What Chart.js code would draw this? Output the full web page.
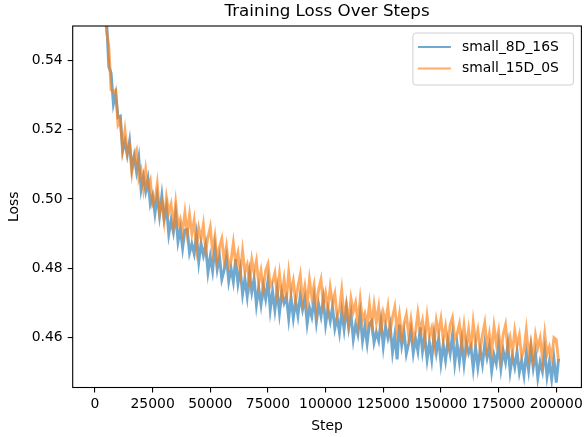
<!DOCTYPE html>
<html>
<head>
<meta charset="utf-8">
<script src="https://cdn.jsdelivr.net/npm/chart.js@4/dist/chart.umd.min.js"></script>
<style>
  html, body { margin: 0; padding: 0; background: #fff; }
  canvas { display: block; }
</style>
</head>
<body>
<canvas id="lossChart" width="587" height="437"></canvas>
<script>
var chartTitle = 'Training Loss Over Steps';
var seriesNames = ['small_8D_16S', 'small_15D_0S'];
var xTicks = [0, 25000, 50000, 75000, 100000, 125000, 150000, 175000, 200000];
var yTicks = [0.46, 0.48, 0.50, 0.52, 0.54];

var steps = [
    0, 1000, 2000, 3000, 4000, 5000, 6000, 7000, 8000, 9000,
    10000, 11000, 12000, 13000, 14000, 15000, 16000, 17000, 18000, 19000,
    20000, 21000, 22000, 23000, 24000, 25000, 26000, 27000, 28000, 29000,
    30000, 31000, 32000, 33000, 34000, 35000, 36000, 37000, 38000, 39000,
    40000, 41000, 42000, 43000, 44000, 45000, 46000, 47000, 48000, 49000,
    50000, 51000, 52000, 53000, 54000, 55000, 56000, 57000, 58000, 59000,
    60000, 61000, 62000, 63000, 64000, 65000, 66000, 67000, 68000, 69000,
    70000, 71000, 72000, 73000, 74000, 75000, 76000, 77000, 78000, 79000,
    80000, 81000, 82000, 83000, 84000, 85000, 86000, 87000, 88000, 89000,
    90000, 91000, 92000, 93000, 94000, 95000, 96000, 97000, 98000, 99000,
    100000, 101000, 102000, 103000, 104000, 105000, 106000, 107000, 108000, 109000,
    110000, 111000, 112000, 113000, 114000, 115000, 116000, 117000, 118000, 119000,
    120000, 121000, 122000, 123000, 124000, 125000, 126000, 127000, 128000, 129000,
    130000, 131000, 132000, 133000, 134000, 135000, 136000, 137000, 138000, 139000,
    140000, 141000, 142000, 143000, 144000, 145000, 146000, 147000, 148000, 149000,
    150000, 151000, 152000, 153000, 154000, 155000, 156000, 157000, 158000, 159000,
    160000, 161000, 162000, 163000, 164000, 165000, 166000, 167000, 168000, 169000,
    170000, 171000, 172000, 173000, 174000, 175000, 176000, 177000, 178000, 179000,
    180000, 181000, 182000, 183000, 184000, 185000, 186000, 187000, 188000, 189000,
    190000, 191000, 192000, 193000, 194000, 195000, 196000, 197000, 198000, 199000,
    200000, 201000
];

// small_8D_16S
var lossA = [
    0.6366, 0.6127, 0.5878, 0.5739, 0.5547, 0.5521, 0.5383, 0.5364, 0.5274, 0.5304,
    0.5235, 0.5239, 0.5138, 0.5166, 0.5127, 0.5167, 0.5087, 0.5124, 0.5079, 0.5119,
    0.5028, 0.5065, 0.5022, 0.5057, 0.4986, 0.5010, 0.4958, 0.5010, 0.4952, 0.5010,
    0.4944, 0.4978, 0.4898, 0.4938, 0.4904, 0.4958, 0.4877, 0.4914, 0.4858, 0.4910,
    0.4912, 0.4844, 0.4870, 0.4842, 0.4895, 0.4818, 0.4871, 0.4837, 0.4867, 0.4788,
    0.4833, 0.4792, 0.4860, 0.4797, 0.4833, 0.4768, 0.4794, 0.4831, 0.4762, 0.4800,
    0.4761, 0.4826, 0.4755, 0.4796, 0.4725, 0.4770, 0.4718, 0.4785, 0.4731, 0.4769,
    0.4694, 0.4744, 0.4695, 0.4749, 0.4711, 0.4763, 0.4680, 0.4733, 0.4679, 0.4737,
    0.4671, 0.4730, 0.4699, 0.4718, 0.4654, 0.4716, 0.4656, 0.4705, 0.4663, 0.4721,
    0.4680, 0.4712, 0.4639, 0.4686, 0.4660, 0.4713, 0.4644, 0.4694, 0.4661, 0.4711,
    0.4637, 0.4682, 0.4647, 0.4688, 0.4626, 0.4658, 0.4614, 0.4675, 0.4624, 0.4687,
    0.4627, 0.4667, 0.4594, 0.4637, 0.4609, 0.4666, 0.4590, 0.4632, 0.4582, 0.4639,
    0.4648, 0.4585, 0.4615, 0.4591, 0.4647, 0.4574, 0.4631, 0.4599, 0.4633, 0.4557,
    0.4606, 0.4536, 0.4637, 0.4576, 0.4615, 0.4552, 0.4582, 0.4621, 0.4554, 0.4596,
    0.4560, 0.4629, 0.4560, 0.4604, 0.4536, 0.4585, 0.4536, 0.4608, 0.4556, 0.4597,
    0.4526, 0.4580, 0.4534, 0.4590, 0.4553, 0.4607, 0.4526, 0.4582, 0.4530, 0.4590,
    0.4524, 0.4584, 0.4554, 0.4573, 0.4510, 0.4573, 0.4514, 0.4564, 0.4522, 0.4581,
    0.4541, 0.4574, 0.4502, 0.4550, 0.4524, 0.4578, 0.4510, 0.4561, 0.4528, 0.4579,
    0.4501, 0.4547, 0.4514, 0.4559, 0.4499, 0.4533, 0.4490, 0.4553, 0.4505, 0.4571,
    0.4512, 0.4554, 0.4483, 0.4528, 0.4501, 0.4561, 0.4487, 0.4529, 0.4479, 0.4537,
    0.4469, 0.4538
];

// small_15D_0S
var lossB = [
    0.6429, 0.6068, 0.5899, 0.5682, 0.5632, 0.5487, 0.5442, 0.5315, 0.5310, 0.5315,
    0.5214, 0.5226, 0.5146, 0.5198, 0.5135, 0.5157, 0.5078, 0.5124, 0.5141, 0.5060,
    0.5083, 0.5030, 0.5085, 0.5034, 0.5054, 0.4983, 0.4994, 0.5043, 0.4961, 0.4990,
    0.4937, 0.5004, 0.4961, 0.4985, 0.4921, 0.4988, 0.4924, 0.4942, 0.4904, 0.4960,
    0.4900, 0.4954, 0.4899, 0.4938, 0.4860, 0.4916, 0.4885, 0.4926, 0.4851, 0.4889,
    0.4919, 0.4848, 0.4891, 0.4823, 0.4860, 0.4885, 0.4821, 0.4863, 0.4805, 0.4822,
    0.4873, 0.4816, 0.4844, 0.4787, 0.4850, 0.4790, 0.4810, 0.4757, 0.4824, 0.4786,
    0.4821, 0.4756, 0.4792, 0.4738, 0.4793, 0.4812, 0.4747, 0.4760, 0.4786, 0.4722,
    0.4782, 0.4719, 0.4768, 0.4709, 0.4787, 0.4730, 0.4763, 0.4704, 0.4747, 0.4780,
    0.4707, 0.4747, 0.4695, 0.4766, 0.4716, 0.4751, 0.4682, 0.4739, 0.4767, 0.4695,
    0.4728, 0.4682, 0.4744, 0.4699, 0.4726, 0.4662, 0.4680, 0.4736, 0.4660, 0.4694,
    0.4641, 0.4712, 0.4674, 0.4700, 0.4640, 0.4709, 0.4648, 0.4669, 0.4636, 0.4695,
    0.4636, 0.4694, 0.4643, 0.4686, 0.4611, 0.4671, 0.4644, 0.4688, 0.4617, 0.4658,
    0.4688, 0.4619, 0.4665, 0.4599, 0.4639, 0.4666, 0.4606, 0.4651, 0.4595, 0.4616,
    0.4670, 0.4617, 0.4648, 0.4594, 0.4660, 0.4604, 0.4627, 0.4579, 0.4649, 0.4614,
    0.4653, 0.4592, 0.4631, 0.4579, 0.4636, 0.4657, 0.4594, 0.4610, 0.4638, 0.4576,
    0.4634, 0.4572, 0.4622, 0.4564, 0.4643, 0.4587, 0.4621, 0.4563, 0.4607, 0.4641,
    0.4569, 0.4610, 0.4559, 0.4631, 0.4582, 0.4618, 0.4550, 0.4608, 0.4636, 0.4565,
    0.4599, 0.4555, 0.4619, 0.4577, 0.4606, 0.4544, 0.4563, 0.4621, 0.4548, 0.4584,
    0.4533, 0.4606, 0.4570, 0.4598, 0.4539, 0.4610, 0.4551, 0.4572, 0.4539, 0.4599,
    0.4593, 0.4531
];

var blue = 'rgba(31, 119, 180, 0.64)';
var orange = 'rgba(255, 127, 14, 0.64)';

Chart.defaults.font.family = '"DejaVu Sans", sans-serif';
Chart.defaults.color = '#000';

function toPoints(ys) {
    return steps.map(function (s, i) { return { x: s, y: ys[i] }; });
}

// title centred over the axes, plus the frame lines
var frame = {
    id: 'frame',
    afterDatasetsDraw: function (chart) {
        var c = chart.ctx, a = chart.chartArea;
        c.save();
        c.strokeStyle = '#000';
        c.lineWidth = 1.1;
        c.strokeRect(a.left, a.top, a.right - a.left, a.bottom - a.top);
        c.font = '16.7px "DejaVu Sans"';
        c.fillStyle = '#000';
        c.textAlign = 'center';
        c.textBaseline = 'middle';
        c.fillText(chartTitle, (a.left + a.right) / 2, 12);
        c.restore();
    }
};

// matplotlib-like legend box in the upper right corner
var legendBox = {
    id: 'legendBox',
    afterDatasetsDraw: function (chart) {
        var c = chart.ctx, a = chart.chartArea;
        var w = 160.5, h = 52, r = 3;
        var x = a.right - 8 - w, y = a.top + 7;
        c.save();
        c.beginPath();
        c.moveTo(x + r, y);
        c.lineTo(x + w - r, y);
        c.quadraticCurveTo(x + w, y, x + w, y + r);
        c.lineTo(x + w, y + h - r);
        c.quadraticCurveTo(x + w, y + h, x + w - r, y + h);
        c.lineTo(x + r, y + h);
        c.quadraticCurveTo(x, y + h, x, y + h - r);
        c.lineTo(x, y + r);
        c.quadraticCurveTo(x, y, x + r, y);
        c.closePath();
        c.fillStyle = 'rgba(255,255,255,0.8)';
        c.fill();
        c.strokeStyle = '#d0d0d0';
        c.lineWidth = 1;
        c.stroke();
        c.font = '13.9px "DejaVu Sans"';
        c.textBaseline = 'middle';
        c.textAlign = 'left';
        chart.data.datasets.forEach(function (ds, i) {
            var ly = y + 14 + i * 21.5;
            c.strokeStyle = ds.borderColor;
            c.lineWidth = 2;
            c.beginPath();
            c.moveTo(x + 5, ly);
            c.lineTo(x + 38, ly);
            c.stroke();
            c.fillStyle = '#000';
            c.fillText(ds.label, x + 49, ly);
        });
        c.restore();
    }
};

var chart = new Chart(document.getElementById('lossChart'), {
    type: 'line',
    data: {
        datasets: [{
            label: seriesNames[0],
            data: toPoints(lossA),
            borderColor: blue,
            borderWidth: 2.9,
            pointRadius: 0,
            order: 1
        }, {
            label: seriesNames[1],
            data: toPoints(lossB),
            borderColor: orange,
            borderWidth: 2.9,
            pointRadius: 0,
            order: 0
        }]
    },
    options: {
        responsive: false,
        animation: false,
        layout: { padding: { top: 26, right: 4.5, left: 0, bottom: 0 } },
        plugins: {
            legend: { display: false },
            title: { display: false },
            tooltip: { enabled: false }
        },
        scales: {
            x: {
                type: 'linear',
                min: -9650,
                max: 210900,
                afterBuildTicks: function (scale) {
                    scale.ticks = xTicks.map(function (v) { return { value: v }; });
                },
                afterFit: function (scale) { scale.height = 49.5; },
                ticks: {
                    autoSkip: false,
                    maxRotation: 0,
                    minRotation: 0,
                    padding: 4,
                    font: { size: 13.9 },
                    callback: function (v) { return String(v); }
                },
                grid: { drawOnChartArea: false, tickLength: 5, color: '#000', lineWidth: 1.1 },
                border: { display: false },
                title: { display: true, text: 'Step', font: { size: 13.9 }, padding: { top: 0, bottom: 2 } }
            },
            y: {
                min: 0.4455,
                max: 0.5500,
                afterBuildTicks: function (scale) {
                    scale.ticks = yTicks.map(function (v) { return { value: v }; });
                },
                afterFit: function (scale) { scale.width = 72.7; },
                ticks: {
                    padding: 5,
                    font: { size: 13.9 },
                    callback: function (v) { return v.toFixed(2); }
                },
                grid: { drawOnChartArea: false, tickLength: 5, color: '#000', lineWidth: 1.1 },
                border: { display: false },
                title: { display: true, text: 'Loss', font: { size: 13.9 }, padding: { top: 6.4, bottom: 0 } }
            }
        }
    },
    plugins: [frame, legendBox]
});
</script>
</body>
</html>
